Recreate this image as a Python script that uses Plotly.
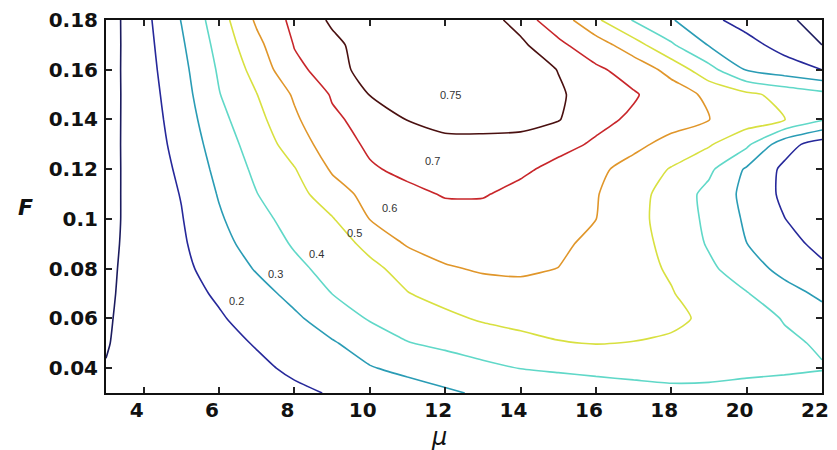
import plotly.graph_objects as go

# Grid (mu on x, F on y)
mu = [3, 4, 5, 6, 7, 8, 9, 10, 11, 12, 13, 14, 15, 16, 17, 18, 19, 20, 21, 22]
F = [0.03, 0.04, 0.05, 0.06, 0.07, 0.08, 0.09, 0.10, 0.11, 0.12, 0.13, 0.14, 0.15, 0.16, 0.17, 0.18]

row_003 = [0.115, 0.13, 0.145, 0.16, 0.172, 0.186, 0.205, 0.232, 0.259, 0.286, 0.313, 0.335, 0.355, 0.37, 0.38, 0.387, 0.385, 0.373, 0.365, 0.355]
row_004 = [0.102, 0.125, 0.146, 0.166, 0.186, 0.213, 0.253, 0.294, 0.323, 0.35, 0.377, 0.402, 0.41, 0.415, 0.418, 0.42, 0.42, 0.418, 0.413, 0.405]
row_005 = [0.097, 0.124, 0.15, 0.177, 0.205, 0.248, 0.291, 0.343, 0.396, 0.42, 0.45, 0.475, 0.495, 0.503, 0.497, 0.485, 0.465, 0.44, 0.415, 0.39]
row_006 = [0.094, 0.126, 0.159, 0.191, 0.235, 0.284, 0.347, 0.408, 0.445, 0.481, 0.51, 0.525, 0.535, 0.54, 0.535, 0.52, 0.482, 0.437, 0.395, 0.34]
row_007 = [0.09, 0.129, 0.169, 0.212, 0.266, 0.328, 0.401, 0.448, 0.497, 0.53, 0.56, 0.575, 0.575, 0.56, 0.535, 0.505, 0.456, 0.405, 0.338, 0.28]
row_008 = [0.086, 0.132, 0.179, 0.238, 0.308, 0.377, 0.432, 0.48, 0.53, 0.59, 0.61, 0.612, 0.599, 0.564, 0.53, 0.49, 0.419, 0.345, 0.27, 0.22]
row_009 = [0.081, 0.134, 0.187, 0.266, 0.343, 0.41, 0.461, 0.522, 0.61, 0.64, 0.655, 0.645, 0.62, 0.574, 0.53, 0.475, 0.39, 0.301, 0.239, 0.17]
row_010 = [0.077, 0.136, 0.195, 0.288, 0.37, 0.436, 0.493, 0.602, 0.65, 0.67, 0.67, 0.665, 0.64, 0.601, 0.53, 0.459, 0.38, 0.285, 0.202, 0.14]
row_011 = [0.075, 0.139, 0.204, 0.307, 0.398, 0.462, 0.558, 0.63, 0.68, 0.706, 0.706, 0.677, 0.641, 0.606, 0.537, 0.459, 0.373, 0.272, 0.18, 0.13]
row_012 = [0.073, 0.142, 0.217, 0.327, 0.421, 0.495, 0.611, 0.69, 0.72, 0.725, 0.727, 0.715, 0.677, 0.623, 0.562, 0.493, 0.42, 0.287, 0.18, 0.14]
row_013 = [0.071, 0.146, 0.232, 0.348, 0.445, 0.544, 0.655, 0.715, 0.73, 0.742, 0.741, 0.74, 0.725, 0.689, 0.626, 0.566, 0.51, 0.42, 0.24, 0.15]
row_014 = [0.068, 0.15, 0.245, 0.372, 0.47, 0.584, 0.685, 0.73, 0.751, 0.76, 0.762, 0.76, 0.752, 0.722, 0.687, 0.643, 0.601, 0.55, 0.502, 0.41]
row_015 = [0.065, 0.154, 0.258, 0.396, 0.498, 0.612, 0.708, 0.751, 0.765, 0.775, 0.775, 0.77, 0.755, 0.732, 0.708, 0.655, 0.577, 0.521, 0.47, 0.43]
row_016 = [0.062, 0.16, 0.271, 0.412, 0.535, 0.68, 0.735, 0.765, 0.775, 0.78, 0.78, 0.77, 0.749, 0.715, 0.665, 0.566, 0.435, 0.293, 0.246, 0.2]
row_017 = [0.058, 0.165, 0.286, 0.432, 0.574, 0.704, 0.742, 0.765, 0.775, 0.78, 0.775, 0.758, 0.718, 0.649, 0.542, 0.413, 0.294, 0.231, 0.166, 0.1]
row_018 = [0.055, 0.171, 0.303, 0.455, 0.615, 0.725, 0.755, 0.765, 0.77, 0.77, 0.768, 0.735, 0.655, 0.517, 0.393, 0.308, 0.221, 0.165, 0.116, 0.069]

Z = [row_003, row_004, row_005, row_006, row_007, row_008, row_009, row_010,
     row_011, row_012, row_013, row_014, row_015, row_016, row_017, row_018]

levels = [0.1, 0.2, 0.3, 0.4, 0.5, 0.6, 0.7, 0.75]
level_colors = ["#1b1b5e", "#26289a", "#2a9cb5", "#60d8c8", "#d8e040", "#e0962a", "#c8262a", "#4a1010"]

# contour labels: (text, mu, F)
label_text = ["0.2", "0.3", "0.4", "0.5", "0.6", "0.7", "0.75"]
label_mu = [6.45, 7.5, 8.59, 9.59, 10.51, 11.66, 12.13]
label_F = [0.067, 0.0778, 0.0858, 0.0942, 0.1042, 0.1231, 0.150]

x_ticks = [4, 6, 8, 10, 12, 14, 16, 18, 20, 22]
y_ticks = [0.04, 0.06, 0.08, 0.10, 0.12, 0.14, 0.16, 0.18]
y_ticktext = ["0.04", "0.06", "0.08", "0.1", "0.12", "0.14", "0.16", "0.18"]

fig = go.Figure()
for lev, col in zip(levels, level_colors):
    fig.add_trace(go.Contour(
        x=mu, y=F, z=Z,
        autocontour=False,
        contours=dict(start=lev, end=lev, size=1, coloring="lines", showlabels=False),
        colorscale=[[0, col], [1, col]],
        line=dict(width=1.6, smoothing=0.6),
        showscale=False,
        hoverinfo="skip",
    ))

for t, xm, yf in zip(label_text, label_mu, label_F):
    fig.add_annotation(x=xm, y=yf, xref="x", yref="y", text=t, showarrow=False,
                       font=dict(family="Liberation Sans, Arial", size=11, color="#333333"))

tick_font = dict(family="DejaVu Sans", size=20, color="#111111", weight="bold")

fig.update_xaxes(range=[3, 22], tickvals=x_ticks, ticktext=[str(v) for v in x_ticks],
                 ticks="inside", ticklen=6, tickwidth=1.5, tickcolor="#222",
                 showline=True, linewidth=2, linecolor="#111", mirror="ticks",
                 showgrid=False, zeroline=False, tickfont=tick_font, ticklabelshift=-7,
                 ticklabelstandoff=-2)
fig.update_yaxes(range=[0.03, 0.18], tickvals=y_ticks, ticktext=y_ticktext,
                 ticks="inside", ticklen=6, tickwidth=1.5, tickcolor="#222",
                 showline=True, linewidth=2, linecolor="#111", mirror="ticks",
                 showgrid=False, zeroline=False, tickfont=tick_font, ticklabelstandoff=2)

fig.add_annotation(xref="paper", yref="paper", x=-0.112, y=0.496, xanchor="center", yanchor="middle",
                   text="<b><i>F</i></b>", showarrow=False,
                   font=dict(family="DejaVu Sans", size=22, color="#111"))
fig.add_annotation(xref="paper", yref="paper", x=0.465, y=-0.117, xanchor="center", yanchor="middle",
                   text="<i>μ</i>", showarrow=False,
                   font=dict(family="DejaVu Sans", size=24, color="#111"))

fig.update_layout(
    width=837, height=450,
    margin=dict(l=106, r=8, t=18, b=57),
    paper_bgcolor="white", plot_bgcolor="white",
    showlegend=False,
)

fig.write_html("out.html")
